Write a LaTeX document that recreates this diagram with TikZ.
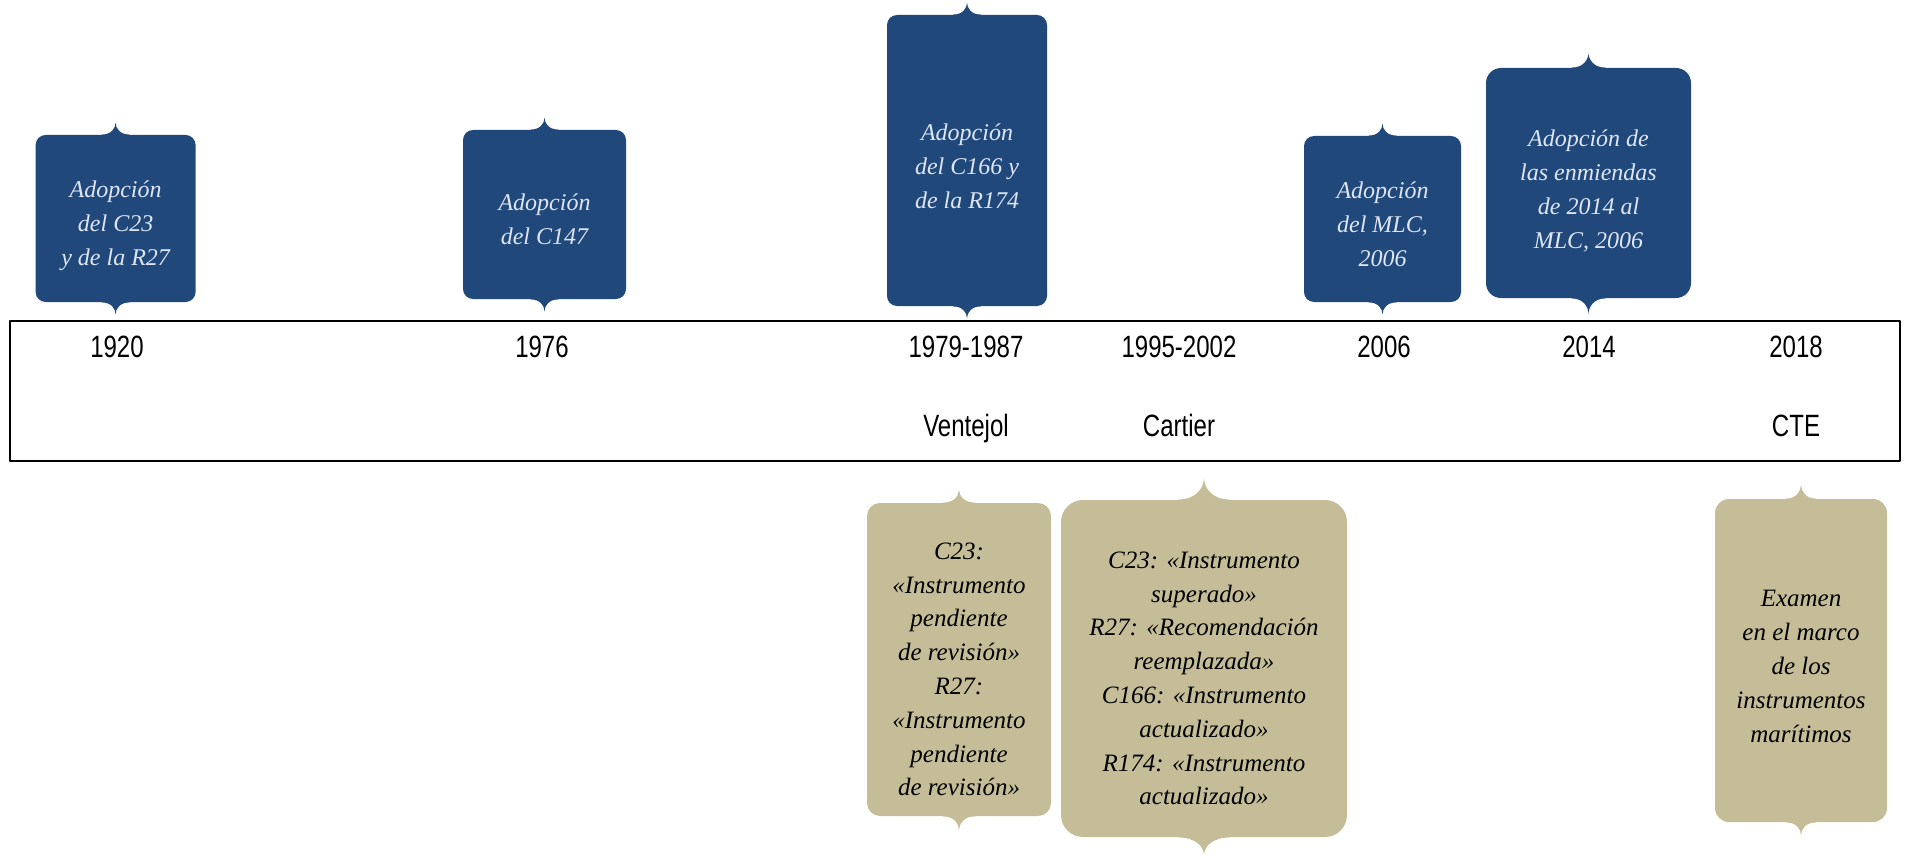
\documentclass[tikz,border=0pt]{standalone}
\usepackage{fontspec}
\setmainfont{Liberation Serif}
\newfontfamily\yearfont[FakeStretch=0.78]{Liberation Sans}
\definecolor{navy}{RGB}{33,72,122}
\definecolor{navytext}{RGB}{222,230,244}
\definecolor{sand}{RGB}{196,189,151}

\begin{document}
\begin{tikzpicture}[x=0.5pt,y=-0.5pt,line join=round,
	adop/.style={fill=navy,inner sep=0pt,rounded corners=5pt},
	adoptxt/.style={text=navytext,font=\itshape\fontsize{12}{17}\selectfont,align=center,inner sep=0pt},
	eval/.style={fill=sand,inner sep=0pt,rounded corners=6.5pt},
	evaltxt/.style={text=black,font=\itshape\fontsize{12.5}{16.9}\selectfont,align=center,inner sep=0pt},
	year/.style={font=\yearfont\fontsize{15.4}{18}\selectfont,anchor=base}]
	\useasboundingbox (0,0) rectangle (1907,856);
	\draw[line width=1.1pt] (10,321) rectangle (1900,461);
	% adopciones
	\node[adop,minimum width=80pt,minimum height=83.5pt] (b1920) at (115.6,218.5) {};
	\node[adop,minimum width=81.5pt,minimum height=84.5pt] (b1976) at (544.5,214.5) {};
	\node[adop,minimum width=80pt,minimum height=145.5pt] (b1979) at (967,160.5) {};
	\node[adop,minimum width=78.5pt,minimum height=83pt] (b2006) at (1382.5,219) {};
	\node[adop,minimum width=102.5pt,minimum height=115pt,rounded corners=7.5pt] (b2014) at (1588.5,183) {};
	% exámenes
	\node[eval,minimum width=92pt,minimum height=156.5pt] (t1979) at (959,659.5) {};
	\node[eval,minimum width=143pt,minimum height=168.5pt,rounded corners=11pt] (t1995) at (1204,668.5) {};
	\node[eval,minimum width=86pt,minimum height=161.5pt,rounded corners=7pt] (t2018) at (1801,660.5) {};
	% picos
	\foreach \nm/\hw/\tipup/\tipdn/\col in {b1920/14/12/12/navy,b1976/14/12/12/navy,b1979/14/12/12/navy,b2006/14/12/12/navy,b2014/17/15/16/navy,t1979/16/13/14/sand,t1995/26/22/18/sand,t2018/15/14/13/sand}{
		\begin{scope}[shift={(\nm.north)}]
			\fill[\col] (-\hw,1) -- (-\hw,0) .. controls (-\hw/3,0) and (0,-\tipup/2) .. (0,-\tipup) .. controls (0,-\tipup/2) and (\hw/3,0) .. (\hw,0) -- (\hw,1) -- cycle;
		\end{scope}
		\begin{scope}[shift={(\nm.south)}]
			\fill[\col] (-\hw,-1) -- (-\hw,0) .. controls (-\hw/3,0) and (0,\tipdn/2) .. (0,\tipdn) .. controls (0,\tipdn/2) and (\hw/3,0) .. (\hw,0) -- (\hw,-1) -- cycle;
		\end{scope}
	}
	% textos
	\node[adoptxt,yshift=-3.5pt] (b1920txt) at (b1920) {Adopción\\del C23\\y de la R27};
	\node[adoptxt,yshift=-2.5pt] (b1976txt) at (b1976) {Adopción\\del C147};
	\node[adoptxt,yshift=-3pt] (b1979txt) at (b1979) {Adopción\\del C166 y\\de la R174};
	\node[adoptxt,yshift=-2.5pt] (b2006txt) at (b2006) {Adopción\\del MLC,\\2006};
	\node[adoptxt,yshift=-4pt] (b2014txt) at (b2014) {Adopción de\\las enmiendas\\de 2014 al\\MLC, 2006};
	\node[evaltxt,yshift=-5pt] (t1979txt) at (t1979) {C23:\\«Instrumento\\pendiente\\de revisión»\\R27:\\«Instrumento\\pendiente\\de revisión»};
	\node[evaltxt,yshift=-5pt] (t1995txt) at (t1995) {C23: «Instrumento\\superado»\\R27: «Recomendación\\reemplazada»\\C166: «Instrumento\\actualizado»\\R174: «Instrumento\\actualizado»};
	\node[evaltxt,yshift=-3pt] (t2018txt) at (t2018) {Examen\\en el marco\\de los\\instrumentos\\marítimos};
	% fechas
	\node[year] (y1920) at (117,357) {1920};
	\node[year] (y1976) at (542,357) {1976};
	\node[year] (y1979) at (966,357) {1979-1987};
	\node[year] (y1995) at (1179,357) {1995-2002};
	\node[year] (y2006) at (1384,357) {2006};
	\node[year] (y2014) at (1589,357) {2014};
	\node[year] (y2018) at (1796,357) {2018};
	\node[year] (ventejol) at (966,436) {Ventejol};
	\node[year] (cartier) at (1179,436) {Cartier};
	\node[year] (cte) at (1796,436) {CTE};
\end{tikzpicture}
\end{document}
